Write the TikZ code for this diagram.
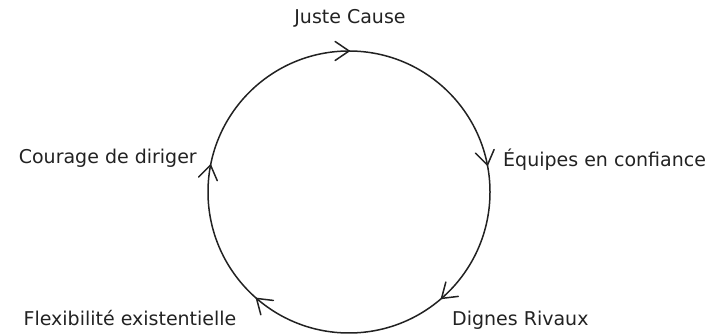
\documentclass[tikz,border=0pt]{standalone}
\usepackage{fontspec}
\setmainfont{DejaVu Sans}
\usetikzlibrary{decorations.markings,calc}
\definecolor{ink}{HTML}{222222}
\tikzset{
  lbl/.style={font=\fontsize{19}{22}\selectfont, text=ink, inner sep=0pt},
  vmark/.style={postaction={decorate, decoration={markings,
     mark=at position #1 with {\draw[ink, line width=1.5pt, line cap=round, line join=miter] (-14,9.5) -- (0,0) -- (-14,-9.5);}}}},
}
\begin{document}
\begin{tikzpicture}[x=1pt,y=1pt]
\useasboundingbox (0,0) rectangle (714,336);
\coordinate (c) at (349,144);
\draw[ink, line width=1.5pt,
  vmark=0.0001, vmark=79/360, vmark=139/360, vmark=221/360, vmark=281/360]
  ($(c)+(90:141)$) arc[start angle=90, end angle=-270, radius=141];
\node[lbl, anchor=center] (jc) at (350,318) {Juste Cause};
\node[lbl, anchor=west] (eq) at (503,176) {Équipes en confiance};
\node[lbl, anchor=east] (cd) at (197,178) {Courage de diriger};
\node[lbl, anchor=center] (fe) at (130,18) {Flexibilité existentielle};
\node[lbl, anchor=west] (dr) at (452,16) {Dignes Rivaux};
\end{tikzpicture}
\end{document}
